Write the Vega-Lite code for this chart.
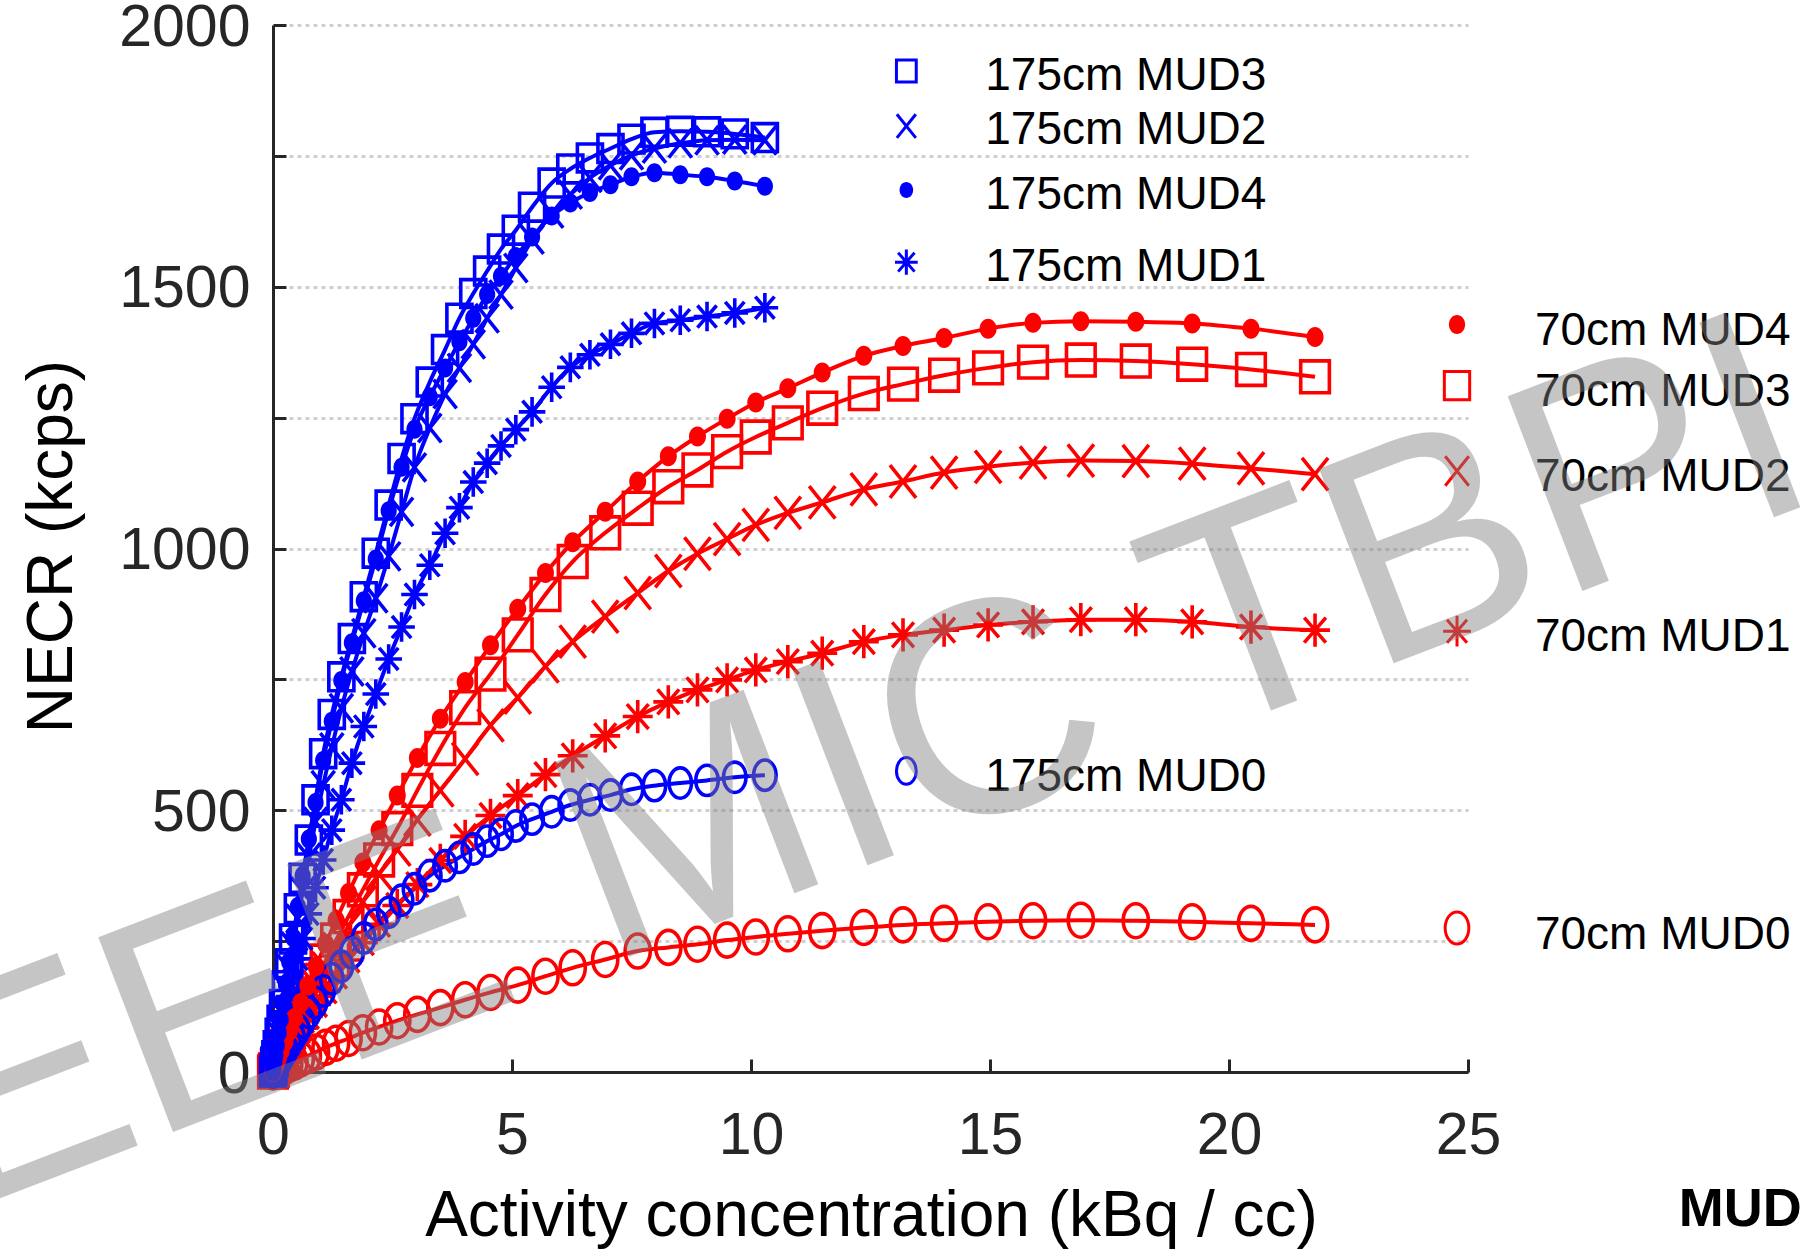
{
"$schema":"https://vega.github.io/schema/vega-lite/v6.json",
"width":1195,"height":1047,
"autosize":{"type":"none"},
"padding":{"left":273,"top":25,"right":333,"bottom":177},
"background":"white",
"config":{"font":"Liberation Sans","view":{"stroke":null}},
"datasets":{
"pts":[
{"s":"r0","x":21.8,"y":281},{"s":"r0","x":20.46,"y":284},{"s":"r0","x":19.23,"y":287},{"s":"r0","x":18.05,"y":289},{"s":"r0","x":16.9,"y":290},{"s":"r0","x":15.9,"y":289},{"s":"r0","x":14.96,"y":287},{"s":"r0","x":14.04,"y":284},{"s":"r0","x":13.18,"y":281},{"s":"r0","x":12.36,"y":276},{"s":"r0","x":11.49,"y":270},{"s":"r0","x":10.77,"y":264},{"s":"r0","x":10.1,"y":258},{"s":"r0","x":9.5,"y":252},{"s":"r0","x":8.88,"y":244},{"s":"r0","x":8.27,"y":238},{"s":"r0","x":7.63,"y":231},{"s":"r0","x":6.95,"y":215},{"s":"r0","x":6.27,"y":199},{"s":"r0","x":5.7,"y":183},{"s":"r0","x":5.12,"y":166},{"s":"r0","x":4.55,"y":152},{"s":"r0","x":4.02,"y":138},{"s":"r0","x":3.5,"y":123},{"s":"r0","x":3.02,"y":110},{"s":"r0","x":2.6,"y":98},{"s":"r0","x":2.22,"y":86},{"s":"r0","x":1.88,"y":75},{"s":"r0","x":1.58,"y":64},{"s":"r0","x":1.32,"y":55},{"s":"r0","x":1.1,"y":47},{"s":"r0","x":0.9,"y":38},{"s":"r0","x":0.73,"y":31},{"s":"r0","x":0.58,"y":25},{"s":"r0","x":0.45,"y":19},{"s":"r0","x":0.34,"y":15},{"s":"r0","x":0.25,"y":11},{"s":"r0","x":0.17,"y":7},{"s":"r0","x":0.11,"y":5},{"s":"r0","x":0.06,"y":3},{"s":"r0","x":0.02,"y":1},{"s":"r0","x":0,"y":0},
{"s":"r1","x":21.8,"y":844},{"s":"r1","x":20.46,"y":850},{"s":"r1","x":19.23,"y":860},{"s":"r1","x":18.05,"y":864},{"s":"r1","x":16.9,"y":864},{"s":"r1","x":15.9,"y":860},{"s":"r1","x":14.96,"y":854},{"s":"r1","x":14.04,"y":844},{"s":"r1","x":13.18,"y":835},{"s":"r1","x":12.36,"y":822},{"s":"r1","x":11.49,"y":800},{"s":"r1","x":10.77,"y":784},{"s":"r1","x":10.1,"y":768},{"s":"r1","x":9.5,"y":749},{"s":"r1","x":8.88,"y":730},{"s":"r1","x":8.27,"y":707},{"s":"r1","x":7.63,"y":679},{"s":"r1","x":6.95,"y":642},{"s":"r1","x":6.27,"y":604},{"s":"r1","x":5.7,"y":568},{"s":"r1","x":5.12,"y":528},{"s":"r1","x":4.55,"y":490},{"s":"r1","x":4.02,"y":450},{"s":"r1","x":3.5,"y":404},{"s":"r1","x":3.02,"y":358},{"s":"r1","x":2.6,"y":318},{"s":"r1","x":2.22,"y":282},{"s":"r1","x":1.88,"y":247},{"s":"r1","x":1.58,"y":214},{"s":"r1","x":1.32,"y":183},{"s":"r1","x":1.1,"y":155},{"s":"r1","x":0.9,"y":129},{"s":"r1","x":0.73,"y":106},{"s":"r1","x":0.58,"y":85},{"s":"r1","x":0.45,"y":67},{"s":"r1","x":0.34,"y":51},{"s":"r1","x":0.25,"y":38},{"s":"r1","x":0.17,"y":26},{"s":"r1","x":0.11,"y":17},{"s":"r1","x":0.06,"y":9},{"s":"r1","x":0.02,"y":3},{"s":"r1","x":0,"y":0},
{"s":"r2","x":21.8,"y":1142},{"s":"r2","x":20.46,"y":1153},{"s":"r2","x":19.23,"y":1162},{"s":"r2","x":18.05,"y":1167},{"s":"r2","x":16.9,"y":1168},{"s":"r2","x":15.9,"y":1164},{"s":"r2","x":14.96,"y":1156},{"s":"r2","x":14.04,"y":1145},{"s":"r2","x":13.18,"y":1128},{"s":"r2","x":12.36,"y":1113},{"s":"r2","x":11.49,"y":1088},{"s":"r2","x":10.77,"y":1068},{"s":"r2","x":10.1,"y":1045},{"s":"r2","x":9.5,"y":1018},{"s":"r2","x":8.88,"y":990},{"s":"r2","x":8.27,"y":957},{"s":"r2","x":7.63,"y":915},{"s":"r2","x":6.95,"y":870},{"s":"r2","x":6.27,"y":822},{"s":"r2","x":5.7,"y":775},{"s":"r2","x":5.12,"y":715},{"s":"r2","x":4.55,"y":662},{"s":"r2","x":4.02,"y":598},{"s":"r2","x":3.5,"y":538},{"s":"r2","x":3.02,"y":482},{"s":"r2","x":2.6,"y":425},{"s":"r2","x":2.22,"y":378},{"s":"r2","x":1.88,"y":325},{"s":"r2","x":1.58,"y":278},{"s":"r2","x":1.32,"y":235},{"s":"r2","x":1.1,"y":198},{"s":"r2","x":0.9,"y":163},{"s":"r2","x":0.73,"y":133},{"s":"r2","x":0.58,"y":106},{"s":"r2","x":0.45,"y":83},{"s":"r2","x":0.34,"y":63},{"s":"r2","x":0.25,"y":46},{"s":"r2","x":0.17,"y":31},{"s":"r2","x":0.11,"y":20},{"s":"r2","x":0.06,"y":11},{"s":"r2","x":0.02,"y":4},{"s":"r2","x":0,"y":0},
{"s":"r3","x":21.8,"y":1328},{"s":"r3","x":20.46,"y":1342},{"s":"r3","x":19.23,"y":1352},{"s":"r3","x":18.05,"y":1358},{"s":"r3","x":16.9,"y":1360},{"s":"r3","x":15.9,"y":1356},{"s":"r3","x":14.96,"y":1345},{"s":"r3","x":14.04,"y":1331},{"s":"r3","x":13.18,"y":1314},{"s":"r3","x":12.36,"y":1296},{"s":"r3","x":11.49,"y":1268},{"s":"r3","x":10.77,"y":1240},{"s":"r3","x":10.1,"y":1213},{"s":"r3","x":9.5,"y":1185},{"s":"r3","x":8.88,"y":1150},{"s":"r3","x":8.27,"y":1118},{"s":"r3","x":7.63,"y":1077},{"s":"r3","x":6.95,"y":1030},{"s":"r3","x":6.27,"y":975},{"s":"r3","x":5.7,"y":912},{"s":"r3","x":5.12,"y":835},{"s":"r3","x":4.55,"y":760},{"s":"r3","x":4.02,"y":696},{"s":"r3","x":3.5,"y":618},{"s":"r3","x":3.02,"y":538},{"s":"r3","x":2.6,"y":465},{"s":"r3","x":2.22,"y":405},{"s":"r3","x":1.88,"y":348},{"s":"r3","x":1.58,"y":297},{"s":"r3","x":1.32,"y":252},{"s":"r3","x":1.1,"y":212},{"s":"r3","x":0.9,"y":175},{"s":"r3","x":0.73,"y":143},{"s":"r3","x":0.58,"y":114},{"s":"r3","x":0.45,"y":89},{"s":"r3","x":0.34,"y":67},{"s":"r3","x":0.25,"y":49},{"s":"r3","x":0.17,"y":33},{"s":"r3","x":0.11,"y":21},{"s":"r3","x":0.06,"y":12},{"s":"r3","x":0.02,"y":4},{"s":"r3","x":0,"y":0},
{"s":"r4","x":21.8,"y":1404},{"s":"r4","x":20.46,"y":1420},{"s":"r4","x":19.23,"y":1430},{"s":"r4","x":18.05,"y":1433},{"s":"r4","x":16.9,"y":1434},{"s":"r4","x":15.9,"y":1431},{"s":"r4","x":14.96,"y":1420},{"s":"r4","x":14.04,"y":1402},{"s":"r4","x":13.18,"y":1387},{"s":"r4","x":12.36,"y":1368},{"s":"r4","x":11.49,"y":1336},{"s":"r4","x":10.77,"y":1306},{"s":"r4","x":10.1,"y":1279},{"s":"r4","x":9.5,"y":1248},{"s":"r4","x":8.88,"y":1214},{"s":"r4","x":8.27,"y":1176},{"s":"r4","x":7.63,"y":1128},{"s":"r4","x":6.95,"y":1070},{"s":"r4","x":6.27,"y":1012},{"s":"r4","x":5.7,"y":953},{"s":"r4","x":5.12,"y":885},{"s":"r4","x":4.55,"y":815},{"s":"r4","x":4.02,"y":745},{"s":"r4","x":3.5,"y":675},{"s":"r4","x":3.02,"y":600},{"s":"r4","x":2.6,"y":528},{"s":"r4","x":2.22,"y":462},{"s":"r4","x":1.88,"y":400},{"s":"r4","x":1.58,"y":342},{"s":"r4","x":1.32,"y":290},{"s":"r4","x":1.1,"y":245},{"s":"r4","x":0.9,"y":202},{"s":"r4","x":0.73,"y":165},{"s":"r4","x":0.58,"y":132},{"s":"r4","x":0.45,"y":103},{"s":"r4","x":0.34,"y":78},{"s":"r4","x":0.25,"y":58},{"s":"r4","x":0.17,"y":40},{"s":"r4","x":0.11,"y":26},{"s":"r4","x":0.06,"y":14},{"s":"r4","x":0.02,"y":5},{"s":"r4","x":0,"y":0},
{"s":"b0","x":10.29,"y":567},{"s":"b0","x":9.66,"y":563},{"s":"b0","x":9.08,"y":557},{"s":"b0","x":8.52,"y":552},{"s":"b0","x":7.98,"y":547},{"s":"b0","x":7.5,"y":540},{"s":"b0","x":7.06,"y":529},{"s":"b0","x":6.63,"y":520},{"s":"b0","x":6.22,"y":510},{"s":"b0","x":5.83,"y":497},{"s":"b0","x":5.42,"y":483},{"s":"b0","x":5.08,"y":470},{"s":"b0","x":4.77,"y":454},{"s":"b0","x":4.48,"y":441},{"s":"b0","x":4.19,"y":426},{"s":"b0","x":3.9,"y":410},{"s":"b0","x":3.6,"y":394},{"s":"b0","x":3.28,"y":375},{"s":"b0","x":2.96,"y":350},{"s":"b0","x":2.69,"y":328},{"s":"b0","x":2.42,"y":305},{"s":"b0","x":2.15,"y":282},{"s":"b0","x":1.9,"y":256},{"s":"b0","x":1.65,"y":228},{"s":"b0","x":1.43,"y":202},{"s":"b0","x":1.23,"y":178},{"s":"b0","x":1.05,"y":155},{"s":"b0","x":0.89,"y":133},{"s":"b0","x":0.75,"y":114},{"s":"b0","x":0.62,"y":96},{"s":"b0","x":0.52,"y":81},{"s":"b0","x":0.42,"y":66},{"s":"b0","x":0.34,"y":54},{"s":"b0","x":0.27,"y":43},{"s":"b0","x":0.21,"y":34},{"s":"b0","x":0.16,"y":26},{"s":"b0","x":0.12,"y":20},{"s":"b0","x":0.08,"y":13},{"s":"b0","x":0.05,"y":8},{"s":"b0","x":0.03,"y":5},{"s":"b0","x":0.01,"y":2},{"s":"b0","x":0,"y":0},
{"s":"b1","x":10.29,"y":1460},{"s":"b1","x":9.66,"y":1450},{"s":"b1","x":9.08,"y":1443},{"s":"b1","x":8.52,"y":1436},{"s":"b1","x":7.98,"y":1430},{"s":"b1","x":7.5,"y":1411},{"s":"b1","x":7.06,"y":1390},{"s":"b1","x":6.63,"y":1370},{"s":"b1","x":6.22,"y":1346},{"s":"b1","x":5.83,"y":1308},{"s":"b1","x":5.42,"y":1261},{"s":"b1","x":5.08,"y":1227},{"s":"b1","x":4.77,"y":1196},{"s":"b1","x":4.48,"y":1163},{"s":"b1","x":4.19,"y":1127},{"s":"b1","x":3.9,"y":1078},{"s":"b1","x":3.6,"y":1029},{"s":"b1","x":3.28,"y":968},{"s":"b1","x":2.96,"y":912},{"s":"b1","x":2.69,"y":850},{"s":"b1","x":2.42,"y":789},{"s":"b1","x":2.15,"y":722},{"s":"b1","x":1.9,"y":660},{"s":"b1","x":1.65,"y":590},{"s":"b1","x":1.43,"y":520},{"s":"b1","x":1.23,"y":462},{"s":"b1","x":1.05,"y":405},{"s":"b1","x":0.89,"y":352},{"s":"b1","x":0.75,"y":302},{"s":"b1","x":0.62,"y":255},{"s":"b1","x":0.52,"y":216},{"s":"b1","x":0.42,"y":176},{"s":"b1","x":0.34,"y":144},{"s":"b1","x":0.27,"y":115},{"s":"b1","x":0.21,"y":90},{"s":"b1","x":0.16,"y":69},{"s":"b1","x":0.12,"y":52},{"s":"b1","x":0.08,"y":35},{"s":"b1","x":0.05,"y":22},{"s":"b1","x":0.03,"y":13},{"s":"b1","x":0.01,"y":4},{"s":"b1","x":0,"y":0},
{"s":"b2","x":10.29,"y":1780},{"s":"b2","x":9.66,"y":1781},{"s":"b2","x":9.08,"y":1780},{"s":"b2","x":8.52,"y":1774},{"s":"b2","x":7.98,"y":1764},{"s":"b2","x":7.5,"y":1751},{"s":"b2","x":7.06,"y":1732},{"s":"b2","x":6.63,"y":1708},{"s":"b2","x":6.22,"y":1676},{"s":"b2","x":5.83,"y":1640},{"s":"b2","x":5.42,"y":1590},{"s":"b2","x":5.08,"y":1536},{"s":"b2","x":4.77,"y":1485},{"s":"b2","x":4.48,"y":1440},{"s":"b2","x":4.19,"y":1390},{"s":"b2","x":3.9,"y":1345},{"s":"b2","x":3.6,"y":1295},{"s":"b2","x":3.28,"y":1230},{"s":"b2","x":2.96,"y":1155},{"s":"b2","x":2.69,"y":1070},{"s":"b2","x":2.42,"y":985},{"s":"b2","x":2.15,"y":905},{"s":"b2","x":1.9,"y":838},{"s":"b2","x":1.65,"y":765},{"s":"b2","x":1.43,"y":695},{"s":"b2","x":1.23,"y":620},{"s":"b2","x":1.05,"y":548},{"s":"b2","x":0.89,"y":478},{"s":"b2","x":0.75,"y":410},{"s":"b2","x":0.62,"y":345},{"s":"b2","x":0.52,"y":293},{"s":"b2","x":0.42,"y":240},{"s":"b2","x":0.34,"y":196},{"s":"b2","x":0.27,"y":157},{"s":"b2","x":0.21,"y":122},{"s":"b2","x":0.16,"y":94},{"s":"b2","x":0.12,"y":71},{"s":"b2","x":0.08,"y":48},{"s":"b2","x":0.05,"y":30},{"s":"b2","x":0.03,"y":18},{"s":"b2","x":0.01,"y":6},{"s":"b2","x":0,"y":0},
{"s":"b3","x":10.29,"y":1785},{"s":"b3","x":9.66,"y":1792},{"s":"b3","x":9.08,"y":1796},{"s":"b3","x":8.52,"y":1797},{"s":"b3","x":7.98,"y":1795},{"s":"b3","x":7.5,"y":1782},{"s":"b3","x":7.06,"y":1764},{"s":"b3","x":6.63,"y":1746},{"s":"b3","x":6.22,"y":1725},{"s":"b3","x":5.83,"y":1698},{"s":"b3","x":5.42,"y":1652},{"s":"b3","x":5.08,"y":1608},{"s":"b3","x":4.77,"y":1572},{"s":"b3","x":4.48,"y":1530},{"s":"b3","x":4.19,"y":1487},{"s":"b3","x":3.9,"y":1440},{"s":"b3","x":3.6,"y":1380},{"s":"b3","x":3.28,"y":1318},{"s":"b3","x":2.96,"y":1248},{"s":"b3","x":2.69,"y":1172},{"s":"b3","x":2.42,"y":1083},{"s":"b3","x":2.15,"y":991},{"s":"b3","x":1.9,"y":908},{"s":"b3","x":1.65,"y":828},{"s":"b3","x":1.43,"y":755},{"s":"b3","x":1.23,"y":683},{"s":"b3","x":1.05,"y":608},{"s":"b3","x":0.89,"y":520},{"s":"b3","x":0.75,"y":443},{"s":"b3","x":0.62,"y":370},{"s":"b3","x":0.52,"y":312},{"s":"b3","x":0.42,"y":254},{"s":"b3","x":0.34,"y":207},{"s":"b3","x":0.27,"y":165},{"s":"b3","x":0.21,"y":129},{"s":"b3","x":0.16,"y":99},{"s":"b3","x":0.12,"y":74},{"s":"b3","x":0.08,"y":50},{"s":"b3","x":0.05,"y":31},{"s":"b3","x":0.03,"y":19},{"s":"b3","x":0.01,"y":6},{"s":"b3","x":0,"y":0},
{"s":"b4","x":10.29,"y":1692},{"s":"b4","x":9.66,"y":1702},{"s":"b4","x":9.08,"y":1710},{"s":"b4","x":8.52,"y":1714},{"s":"b4","x":7.98,"y":1718},{"s":"b4","x":7.5,"y":1710},{"s":"b4","x":7.06,"y":1695},{"s":"b4","x":6.63,"y":1680},{"s":"b4","x":6.22,"y":1660},{"s":"b4","x":5.83,"y":1635},{"s":"b4","x":5.42,"y":1595},{"s":"b4","x":5.08,"y":1558},{"s":"b4","x":4.77,"y":1520},{"s":"b4","x":4.48,"y":1485},{"s":"b4","x":4.19,"y":1440},{"s":"b4","x":3.9,"y":1395},{"s":"b4","x":3.6,"y":1345},{"s":"b4","x":3.28,"y":1290},{"s":"b4","x":2.96,"y":1228},{"s":"b4","x":2.69,"y":1155},{"s":"b4","x":2.42,"y":1072},{"s":"b4","x":2.15,"y":980},{"s":"b4","x":1.9,"y":900},{"s":"b4","x":1.65,"y":820},{"s":"b4","x":1.43,"y":748},{"s":"b4","x":1.23,"y":670},{"s":"b4","x":1.05,"y":595},{"s":"b4","x":0.89,"y":515},{"s":"b4","x":0.75,"y":445},{"s":"b4","x":0.62,"y":375},{"s":"b4","x":0.52,"y":316},{"s":"b4","x":0.42,"y":257},{"s":"b4","x":0.34,"y":210},{"s":"b4","x":0.27,"y":167},{"s":"b4","x":0.21,"y":130},{"s":"b4","x":0.16,"y":100},{"s":"b4","x":0.12,"y":75},{"s":"b4","x":0.08,"y":50},{"s":"b4","x":0.05,"y":31},{"s":"b4","x":0.03,"y":19},{"s":"b4","x":0.01,"y":6},{"s":"b4","x":0,"y":0}
],
"leg":[
{"s":"b3","x":13.25,"y":1912},{"s":"b2","x":13.25,"y":1807},{"s":"b4","x":13.25,"y":1685},{"s":"b1","x":13.25,"y":1547},{"s":"b0","x":13.25,"y":575},
{"s":"r4","x":24.77,"y":1428},{"s":"r3","x":24.77,"y":1311},{"s":"r2","x":24.77,"y":1148},{"s":"r1","x":24.77,"y":842},{"s":"r0","x":24.77,"y":275}
],
"lab":[
{"t":"175cm MUD3","x":14.9,"y":1876},{"t":"175cm MUD2","x":14.9,"y":1773},{"t":"175cm MUD4","x":14.9,"y":1649},{"t":"175cm MUD1","x":14.9,"y":1511},{"t":"175cm MUD0","x":14.9,"y":536},
{"t":"70cm MUD4","x":26.4,"y":1388},{"t":"70cm MUD3","x":26.4,"y":1273},{"t":"70cm MUD2","x":26.4,"y":1110},{"t":"70cm MUD1","x":26.4,"y":805},{"t":"70cm MUD0","x":26.4,"y":235}
]
},
"encoding":{
"x":{"field":"x","type":"quantitative","scale":{"domain":[0,25],"nice":false,"zero":false},
 "axis":{"values":[0,5,10,15,20,25],"format":"d","title":"Activity concentration (kBq / cc)","grid":false,
  "domainColor":"#262626","domainWidth":3,"tickColor":"#262626","tickWidth":3,"tickSize":-13,
  "labelFontSize":59,"labelColor":"#262626","labelPadding":94,"labelBaseline":"alphabetic","labelFlush":false,"labelOverlap":false,
  "titleFontSize":64,"titleFontWeight":"normal","titleColor":"#000000","titleX":598,"titleY":163,"titleBaseline":"alphabetic","titleAlign":"center"}},
"y":{"field":"y","type":"quantitative","scale":{"domain":[0,2000],"nice":false},
 "axis":{"values":[0,250,500,750,1000,1250,1500,1750,2000],"format":"d","labelExpr":"datum.value % 500 === 0 ? datum.label : ''","title":"NECR (kcps)",
  "grid":true,"gridColor":"#cfcfcf","gridDash":[4,4],"gridWidth":3,
  "domainColor":"#262626","domainWidth":3,"tickColor":"#262626","tickWidth":3,"tickSize":-13,
  "labelFontSize":59,"labelColor":"#262626","labelPadding":36,"labelBaseline":"middle","labelOffset":2,"labelFlush":false,"labelOverlap":false,
  "titleFontSize":64,"titleFontWeight":"normal","titleColor":"#000000","titleX":-202,"titleY":521,"titleAngle":270,"titleBaseline":"alphabetic","titleAlign":"center"}}
},
"layer":[
{"data":{"name":"pts"},"mark":{"type":"line","strokeWidth":4,"interpolate":"monotone"},
 "encoding":{"color":{"field":"s","type":"nominal","legend":null,"scale":{"domain":["r0","r1","r2","r3","r4","b0","b1","b2","b3","b4"],"range":["#ff0000","#ff0000","#ff0000","#ff0000","#ff0000","#0000ff","#0000ff","#0000ff","#0000ff","#0000ff"]}}}},
{"data":{"name":"pts"},"transform":[{"filter":"datum.s !== 'r4' && datum.s !== 'b4'"}],
 "mark":{"type":"point","filled":false,"strokeWidth":3.6,"opacity":1},
 "encoding":{
  "color":{"field":"s","type":"nominal","legend":null},
  "shape":{"field":"s","type":"nominal","legend":null,"scale":{"domain":["r0","r1","r2","r3","r4","b0","b1","b2","b3","b4"],"range":["M0,-1A0.74,1,0,1,1,0,1A0.74,1,0,1,1,0,-1Z","M0,-1L0,1M-0.9,0L0.9,0M-0.65,-0.75L0.65,0.75M-0.65,0.75L0.65,-0.75","M-0.8,-1L0.8,1M-0.8,1L0.8,-1","M-0.9,-1L0.9,-1L0.9,1L-0.9,1Z","M0,-1A0.85,1,0,1,1,0,1A0.85,1,0,1,1,0,-1Z","M0,-1A0.74,1,0,1,1,0,1A0.74,1,0,1,1,0,-1Z","M0,-1L0,1M-0.9,0L0.9,0M-0.65,-0.75L0.65,0.75M-0.65,0.75L0.65,-0.75","M-0.8,-1L0.8,1M-0.8,1L0.8,-1","M-0.9,-1L0.9,-1L0.9,1L-0.9,1Z","M0,-1A0.85,1,0,1,1,0,1A0.85,1,0,1,1,0,-1Z"]}},
  "size":{"field":"s","type":"nominal","legend":null,"scale":{"domain":["r0","r1","r2","r3","r4","b0","b1","b2","b3","b4"],"range":[1156,729,576,676,400,1024,729,576,729,361]}}}},
{"data":{"name":"pts"},"transform":[{"filter":"datum.s === 'r4' || datum.s === 'b4'"}],
 "mark":{"type":"point","filled":true,"opacity":1},
 "encoding":{
  "color":{"field":"s","type":"nominal","legend":null},
  "shape":{"field":"s","type":"nominal","legend":null},
  "size":{"field":"s","type":"nominal","legend":null,"scale":{"domain":["r4","b4"],"range":[400,361]}}}},
{"data":{"name":"leg"},"transform":[{"filter":"datum.s !== 'r4' && datum.s !== 'b4'"}],
 "mark":{"type":"point","filled":false,"strokeWidth":3,"opacity":1},
 "encoding":{
  "color":{"field":"s","type":"nominal","legend":null},
  "shape":{"field":"s","type":"nominal","legend":null},
  "size":{"field":"s","type":"nominal","legend":null,"scale":{"domain":["r0","r1","r2","r3","b0","b1","b2","b3"],"range":[1024,484,400,529,676,400,256,441]}}}},
{"data":{"name":"leg"},"transform":[{"filter":"datum.s === 'r4' || datum.s === 'b4'"}],
 "mark":{"type":"point","filled":true,"opacity":1},
 "encoding":{
  "color":{"field":"s","type":"nominal","legend":null},
  "shape":{"field":"s","type":"nominal","legend":null},
  "size":{"field":"s","type":"nominal","legend":null,"scale":{"domain":["r4","b4"],"range":[361,256]}}}},
{"data":{"name":"lab"},"mark":{"type":"text","fontSize":46,"align":"left","baseline":"alphabetic","color":"#000000"},
 "encoding":{"text":{"field":"t"}}},
{"data":{"values":[{"t":"MUD","x":29.41,"y":-294}]},"mark":{"type":"text","fontSize":54,"fontWeight":"bold","align":"left","baseline":"alphabetic","color":"#000000"},
 "encoding":{"text":{"field":"t"}}},
{"data":{"values":[{"t":"IEEE MIC TBPI","x":32.5,"y":1098}]},"mark":{"type":"text","fontSize":303,"angle":339,"align":"right","baseline":"alphabetic","color":"#808080","opacity":0.45},
 "encoding":{"text":{"field":"t"}}}
],
"resolve":{"scale":{"size":"independent"}}
}
